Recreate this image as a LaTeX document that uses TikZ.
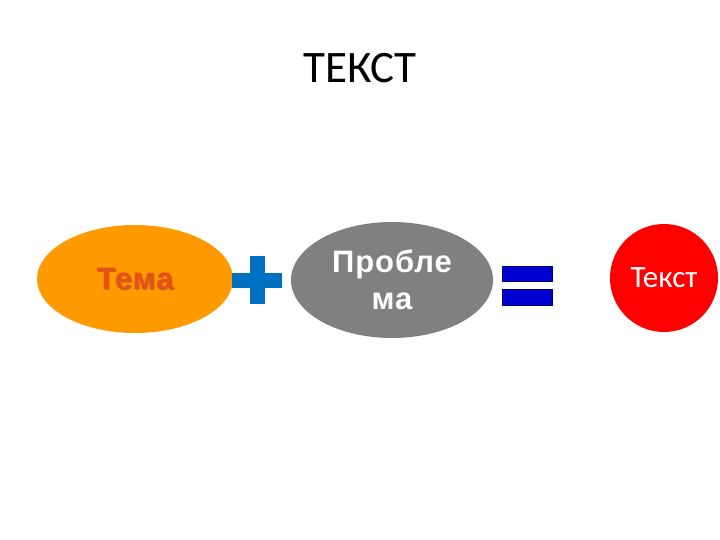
\documentclass[tikz,border=0pt]{standalone}
\usepackage{fontspec}
\setmainfont{Carlito}
\newfontfamily\boldsans[LetterSpace=3]{Liberation Sans}
\usepackage{xcolor}
\usetikzlibrary{shapes.geometric}

\definecolor{temaorange}{HTML}{FF9A00}
\definecolor{tematext}{HTML}{E8501A}
\definecolor{problemgray}{HTML}{808080}
\definecolor{plusblue}{HTML}{0070C0}
\definecolor{eqblue}{HTML}{0000D0}

\tikzset{
  blob/.style={ellipse,inner sep=0pt,minimum width=198pt,minimum height=110pt},
  bigfont/.style={font=\fontsize{31}{39}\selectfont}
}

\begin{document}
\begin{tikzpicture}[x=1pt,y=-1pt]
  \useasboundingbox (0,0) rectangle (720,540);
  % title
  \node (title) at (360,68) {\fontsize{45}{54}\selectfont ТЕКСТ};
  % topic
  \node[blob,fill=temaorange,minimum width=196pt,minimum height=108pt] (tema) at (135,279) {};
  \node[bigfont,text=tematext!60!black,opacity=0.45] at ([shift={(1.2,1.2)}]tema.center) {\boldsans\bfseries Тема};
  \node[bigfont,text=tematext] (temalabel) at (tema.center) {\boldsans\bfseries Тема};
  % plus
  \coordinate (plus) at (257,280);
  \fill[plusblue] (plus) ++(-25,-7.5) rectangle ++(50,15);
  \fill[plusblue] (plus) ++(-7.5,-24) rectangle ++(15,48);
  % problem
  \node[blob,fill=problemgray,minimum width=202pt,minimum height=116pt,
        text=white,align=center,bigfont] (problem) at (392,280) {\boldsans\bfseries Пробле\\[-2pt]\boldsans\bfseries ма};
  % equals
  \coordinate (eq) at (527,285.5);
  \foreach \dy/\h in {-19.5/15,3.5/16}
    \fill[eqblue,draw=eqblue!55!black,line width=0.8pt] (eq) ++(-25,\dy) rectangle ++(50,\h);
  % result
  \node[circle,fill=red,inner sep=0pt,minimum size=108pt,text=white,bigfont] (result) at (664,278) {Текст};
\end{tikzpicture}
\end{document}
